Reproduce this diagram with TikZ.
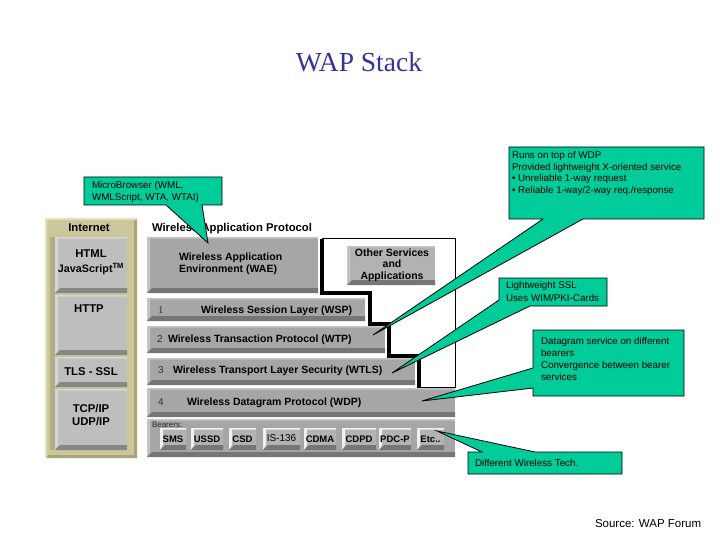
\documentclass[tikz,border=0pt]{standalone}
\usepackage{fontspec}
\setmainfont{Liberation Sans}
\newfontfamily\serifff{Liberation Serif}
\usetikzlibrary{calc}
\pgfdeclarelayer{callout}
\pgfdeclarelayer{front}
\pgfsetlayers{main,callout,front}
\definecolor{titleblue}{RGB}{51,51,153}
\definecolor{callgreen}{RGB}{0,204,153}
\definecolor{khaki}{RGB}{203,199,155}
\definecolor{khakidark}{RGB}{168,164,120}
\definecolor{khakilight}{RGB}{228,225,195}
\definecolor{lface}{RGB}{190,190,190}
\definecolor{lhilite}{RGB}{214,214,214}
\definecolor{lshade}{RGB}{135,135,135}
\definecolor{wface}{RGB}{166,166,166}
\definecolor{whilite}{RGB}{196,196,196}
\definecolor{wshade}{RGB}{118,118,118}
\definecolor{bface}{RGB}{178,178,178}
\newcommand\mkbox[6]{\node[#2, minimum width={#5pt-#3pt}, minimum height={#6pt-#4pt}] (#1) at ({(#3+#5)/2},{(#4+#6)/2}) {};}
\tikzset{
  bev/.style n args={3}{fill=#1, draw=none, path picture={
    \fill[#2] (path picture bounding box.north west) -- (path picture bounding box.north east)
      -- ([yshift=-1.5pt]path picture bounding box.north east)
      -- ([xshift=3pt,yshift=-1.5pt]path picture bounding box.north west)
      -- ([xshift=3pt,yshift=5pt]path picture bounding box.south west)
      -- (path picture bounding box.south west) -- cycle;
    \fill[#3] (path picture bounding box.south west)
      -- ([xshift=5pt,yshift=5pt]path picture bounding box.south west)
      -- ([yshift=5pt]path picture bounding box.south east)
      -- (path picture bounding box.south east) -- cycle;}},
  wbox/.style={bev={wface}{whilite}{wshade}},
  lbox/.style={bev={lface}{lhilite}{lshade}},
  obox/.style={bev={bface}{whilite}{wshade}},
  bitem/.style={bev={bface}{white!88!gray}{wshade}, minimum height=22pt,
    font=\fontsize{9.5}{11}\selectfont\bfseries},
  lbl/.style={font=\fontsize{10.5}{12}\selectfont\bfseries},
  ilbl/.style={font=\fontsize{11.3}{13.5}\selectfont\bfseries},
  num/.style={font=\fontsize{10}{12}\selectfont, text=black!80},
  callout/.style={fill=callgreen, draw=black, line width=0.8pt, line join=miter},
  ctext/.style={font=\fontsize{9.8}{11.6}\selectfont, align=left, anchor=north west},
  stair/.style={line width=4pt, line join=miter, draw=black},
}
\begin{document}
\begin{tikzpicture}[x=1pt, y=-1pt, every node/.style={inner sep=0pt, outer sep=0pt}]
\useasboundingbox (0,0) rectangle (720,540);

% title
\node[anchor=base, font=\serifff\fontsize{27.5}{30}\selectfont, text=titleblue] (title) at (359,72) {WAP Stack};

% ---------- Internet column ----------
\mkbox{inet}{fill=khaki}{45}{218}{137}{458}
\fill[khakidark] (inet.north east) -- ([xshift=-3pt,yshift=-3pt]inet.north east) -- ([xshift=-3pt,yshift=3pt]inet.south east) -- ([xshift=-3pt]inet.south east) -- (inet.south east) -- cycle;
\fill[khakidark] ([xshift=-3pt,yshift=3pt]inet.south east) -- ([xshift=3pt,yshift=3pt]inet.south west) -- (inet.south west) -- (inet.south east) -- cycle;
\fill[khakilight] (inet.north west) -- (inet.north east) -- ([yshift=-2pt]inet.north east) -- ([xshift=2pt,yshift=-2pt]inet.north west) -- ([xshift=2pt]inet.south west) -- (inet.south west) -- cycle;
\fill[khakidark!70!khaki] (50,237) rectangle (55,450);
\node[ilbl, anchor=base] (tinet) at (89,232) {Internet};

\mkbox{html}{lbox}{55}{237}{127}{293}
\mkbox{http}{lbox}{55}{295}{127}{355}
\mkbox{tls}{lbox}{55}{357}{127}{387}
\mkbox{tcp}{lbox}{55}{389}{127}{450}
\node[ilbl, anchor=base] (thtml) at (91,258) {HTML};
\node[font=\fontsize{10.8}{12}\selectfont\bfseries, anchor=base] (tjava) at (91,272) {JavaScript\textsuperscript{TM}};
\node[ilbl, anchor=base] (thttp) at (89,312) {HTTP};
\node[ilbl, anchor=base] (ttls) at (91,375.5) {TLS - SSL};
\node[ilbl, anchor=base] (ttcp) at (91,412) {TCP/IP};
\node[ilbl, anchor=base] (tudp) at (91,425) {UDP/IP};

% ---------- WAP column ----------
\node[ilbl, anchor=base west] (twap) at (152,232) {Wireless Application Protocol};

\draw[line width=1pt] (322,238) -- (455,238) -- (455,387) -- (419,387);
\draw[stair] (322,238.5) -- (322,293) -- (370,293) -- (370,324) -- (389,324) -- (389,356) -- (419,356) -- (419,388);

\mkbox{wae}{wbox}{147}{237}{318}{293}
\mkbox{other}{obox}{347}{246}{435}{285}
\mkbox{wsp}{wbox}{147}{298}{365}{321}
\mkbox{wtp}{wbox}{147}{326}{385}{353}
\mkbox{wtls}{wbox}{147}{358}{415}{385}
\mkbox{wdp}{wbox}{147}{388}{455}{417}
\mkbox{bear}{wbox}{147}{419}{455}{457}

\node[lbl, anchor=base west] (twae1) at (179,260) {Wireless Application};
\node[lbl, anchor=base west] (twae2) at (179,272) {Environment (WAE)};
\node[lbl, anchor=base] (toth1) at (392,256) {Other Services};
\node[lbl, anchor=base] (toth2) at (392,267.5) {and};
\node[lbl, anchor=base] (toth3) at (392,279) {Applications};

\node[num, font=\serifff\fontsize{10.5}{12}\selectfont, anchor=base west] (n1) at (158,313) {1};
\node[lbl, anchor=base west] (twsp) at (201,313) {Wireless Session Layer (WSP)};
\node[num, anchor=base west] (n2) at (157,342) {2};
\node[lbl, anchor=base west] (twtp) at (168,342) {Wireless Transaction Protocol (WTP)};
\node[num, anchor=base west] (n3) at (158,373) {3};
\node[lbl, anchor=base west] (twtls) at (173,373) {Wireless Transport Layer Security (WTLS)};
\node[num, anchor=base west] (n4) at (158,405) {4};
\node[lbl, anchor=base west] (twdp) at (187,405) {Wireless Datagram Protocol (WDP)};

\node[font=\fontsize{8}{9}\selectfont, anchor=base west, text=black!85] (tbear) at (152,427.5) {Bearers:};
\node[bitem, minimum width=26pt] (sms) at (173,439) {SMS};
\node[bitem, minimum width=32pt] (ussd) at (207,439) {USSD};
\node[bitem, minimum width=27pt] (csd) at (242.5,439) {CSD};
\node[bitem, minimum width=37pt, font=\fontsize{10}{11}\selectfont] (is136) at (281.5,439) {\raisebox{2.5pt}{IS-136}};
\node[bitem, minimum width=32pt] (cdma) at (320,439) {CDMA};
\node[bitem, minimum width=34pt] (cdpd) at (359,439) {CDPD};
\node[bitem, minimum width=32pt] (pdcp) at (395,439) {PDC-P};
\node[bitem, minimum width=27pt] (etc) at (430.5,439) {Etc..};

% ---------- callouts ----------
\mkbox{c1}{}{84}{177}{222}{205}
\mkbox{c2}{}{509}{147}{704}{219}
\mkbox{c3}{}{499}{278}{607}{306}
\mkbox{c4}{}{533}{330}{684}{396}
\mkbox{c5}{}{468}{452}{622}{474}

\coordinate (tip1) at (208,243);
\coordinate (tip2) at (373,335);
\coordinate (tip3) at (392,373);
\coordinate (tip4) at (422,401);
\coordinate (tip5) at (437,431);

\begin{pgfonlayer}{callout}
\draw[callout] (c1.north west) -- (c1.north east) -- (c1.south east) -- (202,205) -- (tip1) -- (166,205) -- (c1.south west) -- cycle;
\draw[callout] (c2.north west) -- (c2.north east) -- (c2.south east) -- (583,219) -- (tip2) -- (543,219) -- (c2.south west) -- cycle;
\draw[callout] (c3.north west) -- (c3.north east) -- (c3.south east) -- (530,306) -- (tip3) -- (499,300) -- cycle;
\draw[callout] (c4.north west) -- (c4.north east) -- (c4.south east) -- (c4.south west) -- (533,388) -- (tip4) -- (533,368) -- cycle;
\draw[callout] (c5.north west) -- (482,452) -- (tip5) -- (535,452) -- (c5.north east) -- (c5.south east) -- (c5.south west) -- cycle;
\end{pgfonlayer}

\begin{pgfonlayer}{front}
\node[ctext] (t1) at (92,181.5) {MicroBrowser (WML,\\WMLScript, WTA, WTAI)};
\node[ctext] (t2) at (512,151.5) {Runs on top of WDP\\Provided lightweight X-oriented service\\\textbullet\ Unreliable 1-way request\\\textbullet\ Reliable 1-way/2-way req./response};
\node[ctext, font=\fontsize{9.8}{12.5}\selectfont] (t3) at (506,281.5) {Lightweight SSL\\Uses WIM/PKI-Cards};
\node[ctext, font=\fontsize{9.8}{12}\selectfont] (t4) at (541,337.5) {Datagram service on different\\bearers\\Convergence between bearer\\services};
\node[ctext] (t5) at (475,459.5) {Different Wireless Tech.};
\end{pgfonlayer}

\node[anchor=base west, font=\fontsize{11.5}{13}\selectfont] (src) at (595,527) {Source: WAP Forum};
\end{tikzpicture}
\end{document}
